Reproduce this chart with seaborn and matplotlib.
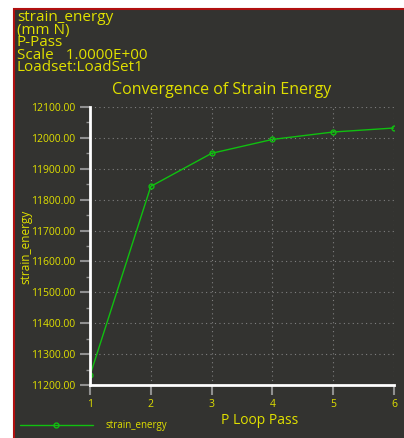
import pandas as pd
import seaborn as sns
from matplotlib import pyplot as plt
from matplotlib.patches import Rectangle
from matplotlib.ticker import MultipleLocator

# values
p_pass = [1, 2, 3, 4, 5, 6]
strain_energy = [11231, 11843, 11950, 11995, 12019, 12032]
header_lines = ['strain_energy', '(mm N)', 'P-Pass', 'Scale   1.0000E+00', 'Loadset:LoadSet1']

BG = '#333330'
YEL = '#e0e000'
GREEN = '#10c010'

df = pd.DataFrame({'P Loop Pass': p_pass, 'strain_energy': strain_energy})

sns.set_style('dark')
plt.rcParams['font.family'] = ['Open Sans', 'DejaVu Sans']

fig = plt.figure(figsize=(4.04, 4.38), dpi=100)
fig.patch.set_facecolor('white')
# dark panel with red edge, white margin top/left
fig.patches.append(Rectangle((14 / 404, -0.05), 1.1, 1.05 - 9 / 438, transform=fig.transFigure,
                             facecolor=BG, edgecolor='#b01010', linewidth=1.5, zorder=-10))

ax = fig.add_axes([90 / 404, 53 / 438, 304 / 404, 278 / 438])
ax.set_facecolor(BG)
sns.lineplot(data=df, x='P Loop Pass', y='strain_energy', ax=ax, color=GREEN,
             marker='o', markersize=3.5, markerfacecolor='none', markeredgecolor=GREEN,
             markeredgewidth=1.0, linewidth=1.0, label='strain_energy', legend=False)

ax.set_xlim(1, 6)
ax.set_ylim(11200, 12100)
ax.yaxis.set_major_locator(MultipleLocator(100))
ax.yaxis.set_minor_locator(MultipleLocator(50))
ax.set_yticks(ax.get_yticks())
ax.set_yticklabels([f'{v:.2f}' for v in ax.get_yticks()])
ax.set_ylim(11200, 12100)

for s in ['top', 'right']:
    ax.spines[s].set_visible(False)
for s in ['left', 'bottom']:
    ax.spines[s].set_color('white')
    ax.spines[s].set_linewidth(2)

ax.grid(True, which='major', color='#808080', linestyle=(0, (1, 3)), linewidth=0.8)
ax.tick_params(axis='both', which='major', colors='#909090', length=7, width=1.5,
               labelcolor=YEL, labelsize=7.5, left=True, bottom=True)
ax.tick_params(axis='y', which='minor', colors='#909090', length=3, width=1, left=True)
ax.tick_params(axis='x', pad=3)

ax.set_xlabel('P Loop Pass', color=YEL, fontsize=10, labelpad=1)
ax.xaxis.set_label_coords((260 - 90) / 304, -0.1)
ax.set_ylabel('strain_energy', color=YEL, fontsize=8.5)
ax.yaxis.set_label_coords(-0.19, (385 - 247) / 278)
ax.set_title('Convergence of Strain Energy', color=YEL, fontsize=11.5, pad=9,
             x=(222 - 90) / 304)

fig.text(17 / 404, 1 - 10 / 438, '\n'.join(header_lines), color=YEL, fontsize=11,
         va='top', ha='left', linespacing=0.78)

handles, labels = ax.get_lines()[:1], ['strain_energy']
leg = fig.legend(handles, labels, loc='lower left', bbox_to_anchor=(11 / 404, -2 / 438),
                 frameon=False, fontsize=7, handlelength=7.5, labelcolor=YEL,
                 handletextpad=1.3)

fig.savefig('out.png', dpi=100, facecolor=fig.get_facecolor())
